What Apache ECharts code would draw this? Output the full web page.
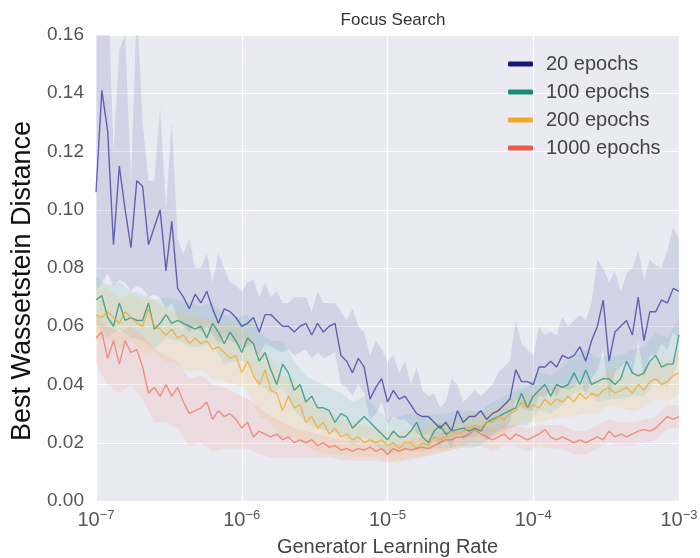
<!DOCTYPE html>
<html>
<head>
<meta charset="utf-8">
<title>Focus Search</title>
<script src="https://cdn.jsdelivr.net/npm/echarts@6/dist/echarts.min.js"></script>
<style>
  html, body { margin: 0; padding: 0; background: #fff; }
  #chart { width: 700px; height: 558px; }
</style>
</head>
<body>
<div id="chart"></div>
<script>
// learning rate grid: 101 points, evenly spaced in log10 between 1e-7 and 1e-3
const lrExp = [];
for (let i = 0; i <= 100; i++) lrExp.push(-7 + i * 0.04);
const lr = lrExp.map(e => Math.pow(10, e));
// band edges were read at every other grid point
const bandLr = lr.filter((v, i) => i % 2 === 0);

const seriesNames = ["20 epochs", "100 epochs", "200 epochs", "1000 epochs"];

// mean curves
const m20 = [.106,.141,.127,.088,.115,.100,.087,.110,.108,.088,
  .094,.100,.079,.096,.073,.070,.066,.071,.068,.072,
  .066,.061,.066,.065,.063,.060,.061,.063,.058,.064,
  .064,.062,.060,.060,.058,.060,.061,.057,.061,.058,
  .060,.061,.050,.048,.044,.049,.046,.035,.039,.042,
  .034,.038,.035,.036,.033,.030,.029,.029,.027,.025,
  .027,.024,.031,.027,.029,.029,.031,.028,.030,.031,
  .033,.035,.045,.041,.041,.040,.046,.046,.048,.046,
  .050,.049,.050,.053,.048,.055,.060,.069,.048,.058,
  .060,.062,.057,.070,.055,.065,.065,.069,.068,.073,.072];
const m100 = [.069,.0705,.063,.060,.068,.062,.063,.062,.062,.068,
  .059,.061,.064,.061,.062,.061,.060,.059,.060,.056,
  .061,.058,.054,.058,.055,.051,.056,.054,.048,.051,
  .045,.040,.047,.044,.038,.040,.034,.036,.032,.032,
  .031,.027,.030,.029,.025,.027,.029,.027,.025,.023,
  .021,.024,.022,.022,.024,.027,.022,.020,.024,.026,
  .023,.024,.0245,.025,.024,.025,.024,.027,.028,.029,
  .030,.031,.032,.037,.032,.036,.038,.040,.036,.040,
  .039,.040,.044,.040,.045,.040,.041,.042,.042,.040,
  .042,.048,.044,.043,.044,.048,.050,.046,.047,.047,.057];
const m200 = [.064,.063,.065,.063,.061,.065,.063,.061,.060,.066,
  .060,.059,.057,.059,.056,.057,.054,.056,.054,.055,
  .052,.053,.051,.049,.050,.044,.048,.043,.040,.045,
  .038,.037,.031,.036,.032,.033,.027,.029,.025,.027,
  .023,.025,.022,.023,.021,.022,.020,.021,.020,.021,
  .019,.020,.018,.020,.020,.018,.020,.019,.022,.021,
  .022,.024,.023,.024,.025,.026,.025,.027,.027,.029,
  .028,.030,.031,.034,.032,.033,.032,.035,.033,.035,
  .034,.036,.034,.037,.035,.037,.036,.038,.039,.037,
  .038,.039,.037,.040,.038,.041,.042,.040,.041,.043,.044];
const m1000 = [.056,.058,.049,.055,.047,.055,.051,.052,.046,.037,
  .039,.036,.040,.036,.039,.034,.030,.031,.032,.034,
  .028,.031,.029,.030,.028,.025,.027,.022,.024,.023,
  .022,.023,.021,.022,.020,.021,.020,.021,.019,.020,
  .0185,.019,.0175,.018,.017,.018,.0175,.0185,.017,.018,
  .016,.018,.017,.018,.0175,.018,.0185,.018,.019,.020,
  .021,.021,.022,.022,.023,.0245,.023,.022,.021,.022,
  .023,.021,.023,.022,.021,.022,.023,.0245,.022,.021,
  .022,.021,.020,.021,.020,.021,.022,.021,.024,.022,
  .023,.022,.023,.024,.0245,.024,.025,.027,.029,.028,.029];

// shaded bands, 20 epochs on the full grid
const hi20 = [.18,.18,.18,.12,.155,.16,.11,.17,.13,.11,
  .11,.135,.10,.13,.09,.085,.09,.08,.08,.085,
  .075,.085,.08,.075,.074,.072,.075,.076,.07,.075,
  .07,.072,.068,.068,.07,.07,.07,.065,.072,.068,
  .068,.068,.065,.062,.066,.06,.058,.05,.055,.052,
  .048,.05,.044,.048,.04,.046,.038,.036,.037,.032,
  .034,.042,.04,.034,.036,.038,.036,.038,.04,.044,
  .046,.048,.062,.054,.052,.05,.06,.057,.058,.057,
  .063,.06,.062,.064,.062,.068,.083,.08,.075,.079,
  .072,.078,.08,.086,.076,.083,.081,.08,.086,.094,.09];
const lo20 = [.072,.075,.078,.074,.076,.075,.072,.074,.073,.07,
  .071,.07,.066,.068,.063,.06,.058,.06,.058,.06,
  .057,.054,.056,.055,.054,.052,.053,.054,.05,.054,
  .053,.052,.051,.052,.05,.051,.052,.049,.051,.049,
  .05,.051,.04,.039,.036,.04,.037,.028,.03,.034,
  .026,.029,.028,.028,.026,.023,.022,.023,.021,.019,
  .021,.018,.024,.021,.022,.022,.024,.021,.023,.024,
  .025,.027,.035,.032,.031,.031,.036,.036,.038,.036,
  .039,.038,.039,.042,.036,.042,.045,.052,.035,.044,
  .046,.048,.043,.055,.042,.05,.05,.054,.052,.058,.056];
// other bands on the half grid
const hi100 = [.077,.074,.075,.072,.071,.069,.070,.069,.068,.067,.068,.064,.063,.064,.058,.055,.055,.048,.043,.041,.039,.037,.034,.036,.032,.028,.029,.030,.029,.030,.030,.031,.031,.031,.034,.036,.038,.039,.044,.043,.046,.050,.052,.049,.050,.050,.052,.053,.058,.056,.063];
const lo100 = [.061,.056,.059,.056,.055,.052,.056,.055,.053,.053,.054,.047,.048,.048,.040,.037,.039,.031,.027,.025,.024,.023,.019,.022,.019,.016,.017,.018,.017,.018,.018,.019,.018,.019,.022,.024,.026,.026,.031,.030,.033,.037,.038,.034,.035,.035,.036,.036,.041,.039,.048];
const hi200 = [.073,.073,.070,.071,.069,.069,.066,.065,.064,.063,.062,.061,.060,.058,.052,.049,.043,.042,.036,.033,.030,.028,.027,.026,.025,.024,.023,.025,.025,.027,.027,.028,.030,.030,.032,.033,.036,.037,.038,.039,.040,.040,.041,.042,.045,.044,.044,.045,.049,.048,.051];
const lo200 = [.055,.056,.052,.055,.051,.051,.048,.047,.044,.045,.042,.041,.040,.038,.029,.027,.021,.022,.019,.017,.016,.016,.015,.015,.015,.014,.013,.015,.015,.017,.017,.018,.020,.020,.022,.023,.026,.027,.027,.028,.029,.029,.030,.030,.033,.032,.031,.032,.035,.034,.037];
const hi1000 = [.064,.060,.058,.060,.057,.052,.050,.048,.042,.043,.040,.039,.037,.035,.032,.029,.027,.025,.024,.023,.022,.021,.020,.021,.020,.019,.020,.021,.022,.022,.024,.025,.026,.026,.025,.026,.026,.025,.026,.026,.026,.024,.024,.026,.028,.027,.027,.028,.029,.033,.033];
const lo1000 = [.047,.040,.037,.040,.035,.027,.027,.025,.019,.020,.017,.018,.018,.018,.016,.015,.015,.015,.015,.015,.015,.014,.014,.014,.014,.013,.014,.014,.015,.016,.017,.018,.019,.019,.017,.019,.019,.017,.019,.018,.018,.016,.016,.018,.020,.019,.019,.020,.021,.025,.025];

const yTicks = [0, 0.02, 0.04, 0.06, 0.08, 0.10, 0.12, 0.14, 0.16];

const legendColors = ["#17177c", "#1d8a78", "#f5a623", "#ee5a48"];
const lineColors = ["rgba(35,35,150,0.65)", "rgba(20,140,120,0.7)", "rgba(240,170,40,0.75)", "rgba(240,95,75,0.62)"];
const bandColors = ["rgba(80,80,160,0.15)", "rgba(40,170,150,0.12)", "rgba(250,190,70,0.16)", "rgba(250,130,110,0.14)"];

const FONT = "Liberation Sans, Arial, sans-serif";

function bandSeries(name, xs, lo, hi, color) {
  return {
    type: "custom",
    name: name,
    silent: true,
    z: 1,
    data: xs.map((x, i) => [x, lo[i], hi[i]]),
    encode: { x: 0, y: [1, 2] },
    renderItem: function (params, api) {
      if (params.dataIndex !== 0) return null;
      const pts = [];
      for (let i = 0; i < xs.length; i++) pts.push(api.coord([xs[i], hi[i]]));
      for (let i = xs.length - 1; i >= 0; i--) pts.push(api.coord([xs[i], lo[i]]));
      const cs = params.coordSys;
      return {
        type: "polygon",
        shape: { points: pts },
        style: { fill: color },
        clipPath: { type: "rect", shape: { x: cs.x, y: cs.y, width: cs.width, height: cs.height } }
      };
    }
  };
}

function lineSeries(name, ys, k) {
  return {
    type: "line",
    name: name,
    data: ys.map((v, i) => [lr[i], v]),
    symbol: "none",
    z: 3,
    color: legendColors[k],
    lineStyle: { color: lineColors[k], width: 1.4 },
    emphasis: { disabled: true }
  };
}

const chart = echarts.init(document.getElementById("chart"));
chart.setOption({
  animation: false,
  backgroundColor: "#fff",
  textStyle: { fontFamily: FONT },
  title: {
    text: "Focus Search",
    left: 388,
    textAlign: "center",
    top: 7,
    textStyle: { fontSize: 17, fontWeight: "normal", color: "#333", fontFamily: FONT }
  },
  grid: {
    left: 96, right: 21, top: 35, bottom: 57,
    outerBoundsMode: "none",
    show: true, backgroundColor: "#eaeaf2", borderWidth: 0
  },
  legend: {
    orient: "vertical",
    left: 503,
    top: 49,
    icon: "roundRect",
    itemWidth: 25,
    itemHeight: 5,
    itemGap: 8,
    data: seriesNames,
    textStyle: { fontSize: 20, color: "#444", fontFamily: FONT, padding: [0, 0, 0, 8] }
  },
  xAxis: {
    type: "log",
    logBase: 10,
    min: lr[0],
    max: lr[lr.length - 1],
    name: "Generator Learning Rate",
    nameLocation: "middle",
    nameGap: 36,
    nameTextStyle: { fontSize: 20, color: "#444", fontFamily: FONT },
    axisLine: { show: false },
    axisTick: { show: false },
    splitLine: { show: true, lineStyle: { color: "#fff", width: 1.2 } },
    axisLabel: {
      margin: 8,
      formatter: function (v) {
        const e = Math.round(Math.log10(v));
        return "{b|10}{s|\u2212" + Math.abs(e) + "}";
      },
      rich: {
        b: { fontSize: 20, color: "#555", fontFamily: FONT },
        s: { fontSize: 13, color: "#555", fontFamily: FONT, padding: [0, 0, 10, 0] }
      }
    }
  },
  yAxis: {
    type: "value",
    min: yTicks[0],
    max: yTicks[yTicks.length - 1],
    interval: 0.02,
    name: "Best Wassetstein Distance",
    nameLocation: "middle",
    nameGap: 46,
    nameTextStyle: { fontSize: 27, color: "#111", fontFamily: FONT, padding: [0, 26, 0, 0] },
    axisLine: { show: false },
    axisTick: { show: false },
    splitLine: { show: true, lineStyle: { color: "#fff", width: 1.2 } },
    axisLabel: {
      margin: 12,
      fontSize: 19,
      color: "#555",
      fontFamily: FONT,
      formatter: v => v.toFixed(2)
    }
  },
  series: [
    bandSeries("20 epochs band", lr, lo20, hi20, bandColors[0]),
    bandSeries("100 epochs band", bandLr, lo100, hi100, bandColors[1]),
    bandSeries("200 epochs band", bandLr, lo200, hi200, bandColors[2]),
    bandSeries("1000 epochs band", bandLr, lo1000, hi1000, bandColors[3]),
    lineSeries(seriesNames[0], m20, 0),
    lineSeries(seriesNames[1], m100, 1),
    lineSeries(seriesNames[2], m200, 2),
    lineSeries(seriesNames[3], m1000, 3)
  ]
});
</script>
</body>
</html>
